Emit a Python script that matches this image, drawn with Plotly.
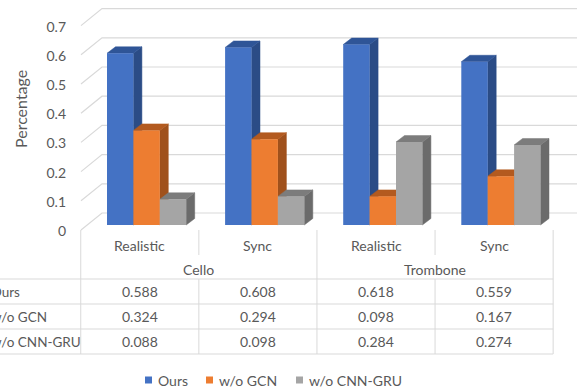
import plotly.graph_objects as go

# ---------------- data ----------------
categories = ["Realistic", "Sync", "Realistic", "Sync"]
instruments = ["Cello", "Trombone"]
series_names = ["Ours", "w/o GCN", "w/o CNN-GRU"]
ours = [0.588, 0.608, 0.618, 0.559]
wo_gcn = [0.324, 0.294, 0.098, 0.167]
wo_cnn_gru = [0.088, 0.098, 0.284, 0.274]
y_ticks = [0, 0.1, 0.2, 0.3, 0.4, 0.5, 0.6, 0.7]
y_tick_labels = ["0", "0.1", "0.2", "0.3", "0.4", "0.5", "0.6", "0.7"]
y_title = "Percentage"

series_values = [ours, wo_gcn, wo_cnn_gru]

# ---------------- styles / layout constants ----------------
W, H = 584, 388
FONT = "Lato"
TXT = "#595959"
GRID = "#D9D9D9"
front_cols = ["#4472C4", "#ED7D31", "#A5A5A5"]
top_cols = ["#2F5597", "#B35A1F", "#7C7C7C"]
side_cols = ["#2B4C86", "#A0511C", "#6B6B6B"]

COL0_PX, COL_W = 139.8, 118.1     # centre of first category, category width (px)
ZERO_PX, UNIT_PX = 225.0, 292.0   # pixel row of value 0 (bar plane), px per unit


def ux(px):
    return (px - COL0_PX) / COL_W


def py2paper(py):
    return 1 - py / H


x_range = [ux(0), ux(W)]
y_range = [(ZERO_PX - H) / UNIT_PX, ZERO_PX / UNIT_PX]

BAR_W = 26.4 / COL_W
BAR_OFF0 = -32.8 / COL_W
DDX, DDY = 8.5 / COL_W, 6.5 / UNIT_PX          # bar depth
WALL_FX, WALL_BX, WALL_RX = ux(81), ux(102), ux(577)
WALL_FY, WALL_BY = -5 / UNIT_PX, 12 / UNIT_PX   # front / back wall offsets

fig = go.Figure()

# back-wall gridlines
for v in y_ticks:
    fig.add_trace(go.Scatter(
        x=[WALL_FX, WALL_BX, WALL_RX],
        y=[v + WALL_FY, v + WALL_BY, v + WALL_BY],
        mode="lines", line=dict(color=GRID, width=1.2),
        hoverinfo="skip", showlegend=False))

# 3D side and top faces (drawn below the front faces)
for j, vals in enumerate(series_values):
    for i, v in enumerate(vals):
        L = i + BAR_OFF0 + j * BAR_W
        R = L + BAR_W
        fig.add_trace(go.Scatter(
            x=[R, R + DDX, R + DDX, R, R],
            y=[0, DDY, v + DDY, v, 0],
            fill="toself", fillcolor=side_cols[j], mode="lines",
            line=dict(color=side_cols[j], width=0.5),
            hoverinfo="skip", showlegend=False))
        fig.add_trace(go.Scatter(
            x=[L, L + DDX, R + DDX, R, L],
            y=[v, v + DDY, v + DDY, v, v],
            fill="toself", fillcolor=top_cols[j], mode="lines",
            line=dict(color=top_cols[j], width=0.5),
            hoverinfo="skip", showlegend=False))

# front faces
for j, vals in enumerate(series_values):
    fig.add_trace(go.Bar(
        x=list(range(len(categories))), y=vals, name=series_names[j],
        width=BAR_W, offset=BAR_OFF0 + j * BAR_W,
        marker=dict(color=front_cols[j], line=dict(width=0)),
        xaxis="x2", yaxis="y2", showlegend=False))

shapes = []
annotations = []

# category table: vertical lines
T_TOP, T_MID1, T_MID2, T_BOT = 230, 255, 279, 354
row_lines = [279, 304, 329, 354]
for k in range(len(categories) + 1):
    xb = k - 0.5
    if k in (1, 3):
        segs = [(T_TOP, T_MID1), (T_MID2, T_BOT)]
    else:
        segs = [(T_TOP, T_BOT)]
    for a, b in segs:
        shapes.append(dict(type="line", xref="x", yref="paper",
                           x0=xb, x1=xb, y0=py2paper(a), y1=py2paper(b),
                           line=dict(color=GRID, width=1)))
for r in row_lines:
    shapes.append(dict(type="line", xref="x", yref="paper",
                       x0=ux(-5), x1=len(categories) - 0.5,
                       y0=py2paper(r), y1=py2paper(r),
                       line=dict(color=GRID, width=1)))

font = dict(family=FONT, size=14, color=TXT)


def ann(x, y, text, xref="paper", xanchor="center", **kw):
    d = dict(x=x, y=y, xref=xref, yref="paper", text=text, showarrow=False,
             xanchor=xanchor, yanchor="middle", font=kw.pop("font", font))
    d.update(kw)
    annotations.append(d)


for i, c in enumerate(categories):
    ann(i, py2paper(245), c, xref="x")
for k, inst in enumerate(instruments):
    ann(2 * k + 0.5, py2paper(269), inst, xref="x")
row_cy = [291.5, 316.5, 341.5]
for j, vals in enumerate(series_values):
    ann(-11 / W, py2paper(row_cy[j]), series_names[j], xanchor="left",
        font=dict(family=FONT, size=13.5, color=TXT))
    for i, v in enumerate(vals):
        ann(i, py2paper(row_cy[j]), f"{v:.3f}", xref="x")

# y axis title
ann(20 / W, py2paper(109), y_title, textangle=-90,
    font=dict(family=FONT, size=16, color=TXT))

# legend (keys + labels)
leg_y = 380
leg_keys_px = [145, 206, 296]
for j, name in enumerate(series_names):
    k = leg_keys_px[j]
    shapes.append(dict(type="rect", xref="paper", yref="paper",
                       x0=k / W, x1=(k + 7) / W,
                       y0=py2paper(leg_y + 3.5), y1=py2paper(leg_y - 3.5),
                       fillcolor=front_cols[j], line=dict(width=0)))
    ann((k + 11) / W, py2paper(leg_y), name, xanchor="left")

fig.update_layout(
    width=W, height=H, template="none",
    margin=dict(l=0, r=0, t=0, b=0, pad=0),
    paper_bgcolor="white", plot_bgcolor="white",
    barmode="overlay", showlegend=False,
    xaxis=dict(range=x_range, visible=False, fixedrange=True),
    yaxis=dict(range=y_range, anchor="free", position=70 / W,
               tickvals=y_ticks, ticktext=y_tick_labels, ticks="",
               showgrid=False, showline=False, zeroline=False,
               ticklabelshift=6, ticklabelstandoff=4,
               tickfont=font, automargin=False, fixedrange=True),
    xaxis2=dict(range=x_range, overlaying="x", visible=False, fixedrange=True),
    yaxis2=dict(range=y_range, overlaying="y", visible=False, fixedrange=True),
    shapes=shapes, annotations=annotations,
)

fig.write_html("out.html", config={"displayModeBar": False},
               post_script="document.body.style.margin='0';")
